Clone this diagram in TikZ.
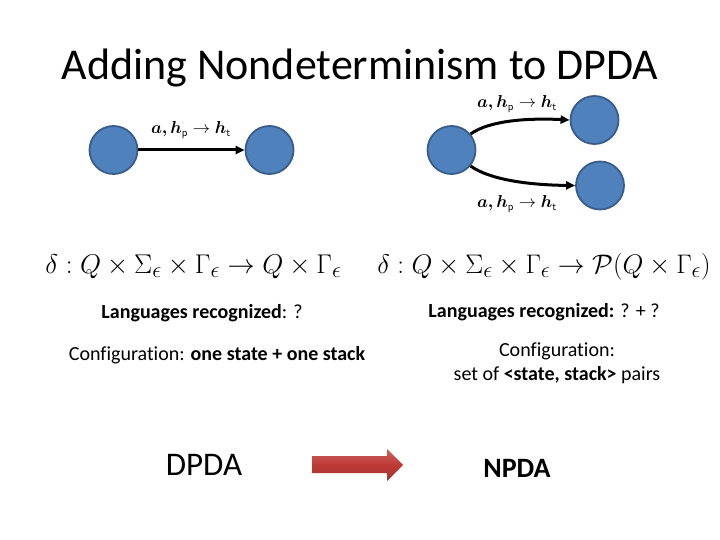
\documentclass[tikz,border=0pt]{standalone}
\usepackage{fontspec}
\setmainfont{Carlito}[Ligatures={NoCommon}]
\usepackage{amsmath,bm,graphicx}
\usetikzlibrary{arrows.meta}
\definecolor{stfill}{HTML}{4F81BD}
\definecolor{stline}{HTML}{385D8A}
\definecolor{arrred}{HTML}{BE3A36}
\tikzset{
  state/.style={circle,fill=stfill,draw=stline,line width=1.8pt,minimum size=48pt,inner sep=0pt},
  trans/.style={line width=3pt,-{Triangle[length=9pt,width=8pt]}},
  lbl/.style={font=\fontsize{16}{18}\selectfont,inner sep=0pt},
  body/.style={font=\fontsize{20}{24}\selectfont,inner sep=0pt,align=center},
  formula/.style={font=\fontsize{24.88}{30}\selectfont,inner sep=0pt}
}
\begin{document}
\begin{tikzpicture}[x=1pt,y=-1pt]
\useasboundingbox (0,0) rectangle (720,540);
\node[font=\fontsize{44}{50}\selectfont,inner sep=0pt] (title) at (360,68) {Adding Nondeterminism to DPDA};
% left DPDA
\node[state] (l1) at (113.5,150) {};
\node[state] (l2) at (269.5,150) {};
\draw[trans] (l1) -- (l2);
\node[lbl] (ll) at (191,130) {$\bm{a,h}_{\mathsf{p}}\to\bm{h}_{\mathsf{t}}$};
% right NPDA
\node[state] (r1) at (451.5,150) {};
\node[state] (r2) at (594.5,120) {};
\node[state] (r3) at (600,185.5) {};
\draw[trans] (r1.40) .. controls (490,120) and (530,118) .. (r2.west);
\draw[trans] (r1.-40) .. controls (490,180) and (530,185) .. (r3.west);
\node[lbl] (rl1) at (517,104) {$\bm{a,h}_{\mathsf{p}}\to\bm{h}_{\mathsf{t}}$};
\node[lbl] (rl2) at (517,204) {$\bm{a,h}_{\mathsf{p}}\to\bm{h}_{\mathsf{t}}$};
% formulas
\node[formula] (fl) at (193.5,267) {\scalebox{1.09}{$\delta: Q\times\Sigma_\epsilon\times\Gamma_\epsilon\to Q\times\Gamma_\epsilon$}};
\node[formula] (fr) at (544,267) {\scalebox{1.08}{$\delta: Q\times\Sigma_\epsilon\times\Gamma_\epsilon\to \mathcal{P}(Q\times\Gamma_\epsilon)$}};
% texts
\node[body] (langl) at (202,313) {\textbf{Languages recognized}: ?};
\node[body] (langr) at (544,312) {\textbf{Languages recognized:} ? + ?};
\node[body] (confl) at (217,355) {Configuration: \textbf{one state + one stack}};
\node[body] (confr) at (557,351) {Configuration:};
\node[body] (confr2) at (557,375) {set of \textbf{<state, stack>} pairs};
\node[font=\fontsize{33}{38}\selectfont,inner sep=0pt] (dpda) at (204,465) {DPDA};
\node[font=\bfseries\fontsize{28}{32}\selectfont,inner sep=0pt] (npda) at (517,468) {NPDA};
\shade[top color=arrred!80!white,bottom color=arrred!85!black,middle color=arrred]
  (312,456) -- (387,456) -- (387,449) -- (403,465) -- (387,481) -- (387,473) -- (312,473) -- cycle;
\end{tikzpicture}
\end{document}
